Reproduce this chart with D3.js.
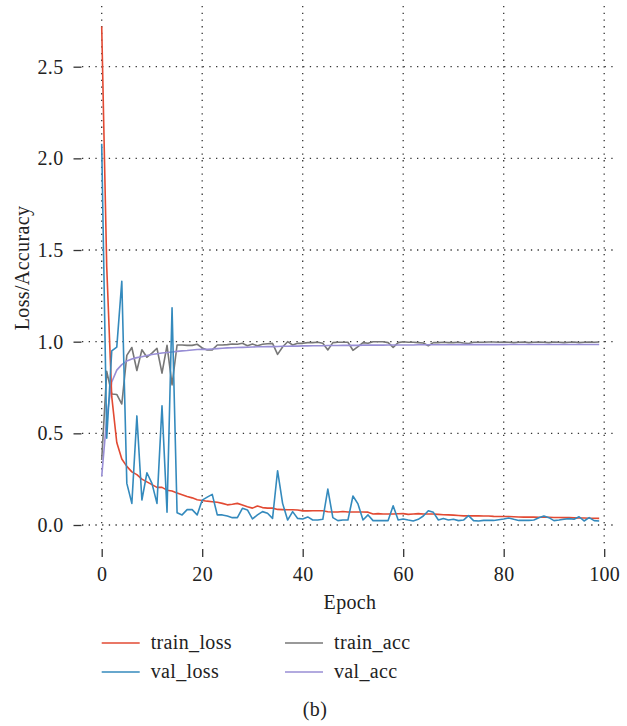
<!DOCTYPE html>
<html>
<head>
<meta charset="utf-8">
<script src="https://cdn.jsdelivr.net/npm/d3@7"></script>
<style>
  html, body { margin: 0; padding: 0; background: #fff; }
  svg { display: block; }
  text { font-family: "Liberation Serif", "Times New Roman", serif; fill: #222; letter-spacing: 0.35px; }
</style>
</head>
<body>
<svg id="chart" width="627" height="726"></svg>
<script>
// Training history over 100 epochs
const epochs = d3.range(0, 100);

const trainLoss = [
  2.72, 1.41, 0.70, 0.45, 0.36, 0.32, 0.29, 0.275, 0.25, 0.235,
  0.22, 0.205, 0.205, 0.19, 0.185, 0.175, 0.165, 0.155, 0.148, 0.138,
  0.134, 0.13, 0.127, 0.124, 0.118, 0.110, 0.113, 0.118, 0.109, 0.100,
  0.092, 0.104, 0.095, 0.092, 0.092, 0.085, 0.084, 0.083, 0.083, 0.082,
  0.077, 0.077, 0.078, 0.078, 0.078, 0.072, 0.071, 0.071, 0.074, 0.071,
  0.071, 0.071, 0.071, 0.070, 0.060, 0.062, 0.060, 0.060, 0.060, 0.061,
  0.062, 0.058, 0.060, 0.062, 0.060, 0.060, 0.060, 0.058, 0.056, 0.055,
  0.054, 0.052, 0.050, 0.050, 0.050, 0.050, 0.049, 0.049, 0.047, 0.046,
  0.046, 0.046, 0.045, 0.044, 0.043, 0.043, 0.043, 0.042, 0.042, 0.042,
  0.041, 0.041, 0.040, 0.040, 0.039, 0.038, 0.038, 0.037, 0.037, 0.036
];

const valLoss = [
  2.08, 0.473, 0.95, 0.97, 1.33, 0.227, 0.118, 0.595, 0.136, 0.285,
  0.227, 0.118, 0.65, 0.07, 1.185, 0.067, 0.055, 0.084, 0.084, 0.055,
  0.136, 0.152, 0.167, 0.055, 0.055, 0.049, 0.04, 0.04, 0.091, 0.082,
  0.033, 0.055, 0.073, 0.064, 0.036, 0.296, 0.118, 0.027, 0.073, 0.036,
  0.033, 0.044, 0.027, 0.027, 0.031, 0.196, 0.04, 0.024, 0.027, 0.027,
  0.158, 0.115, 0.027, 0.055, 0.024, 0.024, 0.024, 0.024, 0.105, 0.027,
  0.033, 0.027, 0.022, 0.031, 0.049, 0.078, 0.069, 0.027, 0.035, 0.027,
  0.031, 0.024, 0.027, 0.051, 0.024, 0.022, 0.025, 0.025, 0.025, 0.029,
  0.033, 0.038, 0.031, 0.025, 0.025, 0.025, 0.027, 0.04, 0.049, 0.04,
  0.024, 0.027, 0.031, 0.035, 0.031, 0.045, 0.022, 0.04, 0.024, 0.022
];

const trainAcc = [
  0.355, 0.838, 0.715, 0.712, 0.66, 0.925, 0.968, 0.843, 0.956, 0.915,
  0.938, 0.964, 0.828, 0.98, 0.764, 0.982, 0.982, 0.98, 0.98, 0.986,
  0.966, 0.955, 0.955, 0.982, 0.982, 0.984, 0.987, 0.986, 0.991, 0.978,
  0.987, 0.978, 0.986, 0.989, 0.991, 0.931, 0.971, 1.0, 0.982, 0.991,
  0.991, 0.995, 0.995, 0.997, 0.991, 0.955, 0.995, 0.997, 0.997, 0.997,
  0.953, 0.973, 0.995, 0.991, 1.0, 1.0, 1.0, 0.995, 0.969, 0.995,
  1.0, 0.997, 0.997, 0.995, 0.993, 0.978, 0.995, 0.995, 0.997, 0.995,
  0.995, 0.997, 0.993, 0.99, 0.997, 0.997, 0.997, 0.998, 0.998, 0.997,
  0.998, 0.997, 0.995, 0.997, 0.998, 0.995, 0.997, 0.998, 0.997, 0.995,
  0.998, 0.997, 0.995, 0.997, 0.998, 0.995, 0.997, 0.998, 0.997, 0.998
];

const valAcc = [
  0.265, 0.58, 0.78, 0.845, 0.875, 0.895, 0.905, 0.913, 0.918, 0.925,
  0.93, 0.934, 0.938, 0.941, 0.944, 0.947, 0.95, 0.952, 0.955, 0.957,
  0.958, 0.958, 0.96, 0.962, 0.964, 0.966, 0.967, 0.968, 0.969, 0.970,
  0.971, 0.972, 0.972, 0.973, 0.973, 0.974, 0.975, 0.975, 0.976, 0.976,
  0.977, 0.977, 0.978, 0.978, 0.978, 0.979, 0.979, 0.979, 0.980, 0.980,
  0.980, 0.980, 0.981, 0.981, 0.981, 0.981, 0.981, 0.982, 0.982, 0.982,
  0.982, 0.982, 0.982, 0.983, 0.983, 0.983, 0.983, 0.983, 0.983, 0.983,
  0.983, 0.984, 0.984, 0.984, 0.984, 0.984, 0.984, 0.984, 0.984, 0.984,
  0.984, 0.985, 0.985, 0.985, 0.985, 0.985, 0.985, 0.985, 0.985, 0.985,
  0.985, 0.985, 0.985, 0.985, 0.985, 0.985, 0.985, 0.985, 0.985, 0.985
];

const xTicks = [0, 20, 40, 60, 80, 100];
const yTicks = [0.0, 0.5, 1.0, 1.5, 2.0, 2.5];

const seriesNames = ["train_loss", "val_loss", "train_acc", "val_acc"];
const seriesColors = ["#E24A33", "#348ABD", "#777777", "#988ED5"];
const seriesValues = [trainLoss, valLoss, trainAcc, valAcc];

// ---- layout ----
const plot = { left: 82, right: 618, top: 6, bottom: 546 };
const fontSize = 20;

const x = d3.scaleLinear().domain([0, 100]).range([101.7, 604.2]);
const y = d3.scaleLinear().domain([0, 2.5]).range([525, 66.7]);

const svg = d3.select("#chart");
svg.append("rect").attr("width", 627).attr("height", 726).attr("fill", "#fff");

// dotted grid
const grid = svg.append("g").attr("class", "grid")
  .attr("stroke", "#333").attr("stroke-width", 1.3)
  .attr("stroke-dasharray", "1.3,5.4");
grid.selectAll("line.v").data(xTicks).join("line").attr("class", "v")
  .attr("x1", d => x(d)).attr("x2", d => x(d))
  .attr("y1", plot.top).attr("y2", plot.bottom);
grid.selectAll("line.h").data(yTicks).join("line").attr("class", "h")
  .attr("x1", plot.left).attr("x2", plot.right)
  .attr("y1", d => y(d)).attr("y2", d => y(d));

// axes (offset, no spine)
const xAxis = svg.append("g")
  .attr("transform", `translate(0,${plot.bottom + 3})`)
  .call(d3.axisBottom(x).tickValues(xTicks).tickFormat(d3.format("d")).tickSize(8).tickPadding(10));
const yAxis = svg.append("g")
  .attr("transform", `translate(${plot.left - 0.5},0)`)
  .call(d3.axisLeft(y).tickValues(yTicks).tickFormat(d3.format(".1f")).tickSize(8).tickPadding(10));

[xAxis, yAxis].forEach(g => {
  g.select(".domain").remove();
  g.selectAll(".tick line").attr("stroke", "#333").attr("stroke-width", 1.3);
  g.selectAll(".tick text")
    .attr("font-family", "Liberation Serif, serif")
    .attr("font-size", fontSize).attr("fill", "#222");
});

// axis titles
svg.append("text")
  .attr("x", (plot.left + plot.right) / 2).attr("y", 609)
  .attr("text-anchor", "middle").attr("font-size", fontSize)
  .text("Epoch");
svg.append("text")
  .attr("transform", `translate(29,268) rotate(-90)`)
  .attr("text-anchor", "middle").attr("font-size", fontSize)
  .text("Loss/Accuracy");

// series lines
const line = d3.line().x((d, i) => x(epochs[i])).y(d => y(d));
const lines = svg.append("g").attr("fill", "none")
  .attr("stroke-width", 1.6).attr("stroke-linejoin", "round");
// accuracy curves first, losses on top
[2, 3, 0, 1].forEach(k => {
  lines.append("path")
    .attr("d", line(seriesValues[k]))
    .attr("stroke", seriesColors[k]);
});

// legend
const legendPos = [
  { lx: 101.7, ly: 643 },
  { lx: 101.7, ly: 672 },
  { lx: 285, ly: 643 },
  { lx: 285, ly: 672 }
];
const legend = svg.append("g");
seriesNames.forEach((name, k) => {
  const p = legendPos[k];
  legend.append("line")
    .attr("x1", p.lx).attr("x2", p.lx + 38)
    .attr("y1", p.ly).attr("y2", p.ly)
    .attr("stroke", seriesColors[k]).attr("stroke-width", 1.3);
  legend.append("text")
    .attr("x", p.lx + 49).attr("y", p.ly + 5.5)
    .attr("font-size", fontSize)
    .text(name);
});

// panel caption
svg.append("text")
  .attr("x", 315).attr("y", 716).attr("text-anchor", "middle")
  .attr("font-size", fontSize).text("(b)");
</script>
</body>
</html>
